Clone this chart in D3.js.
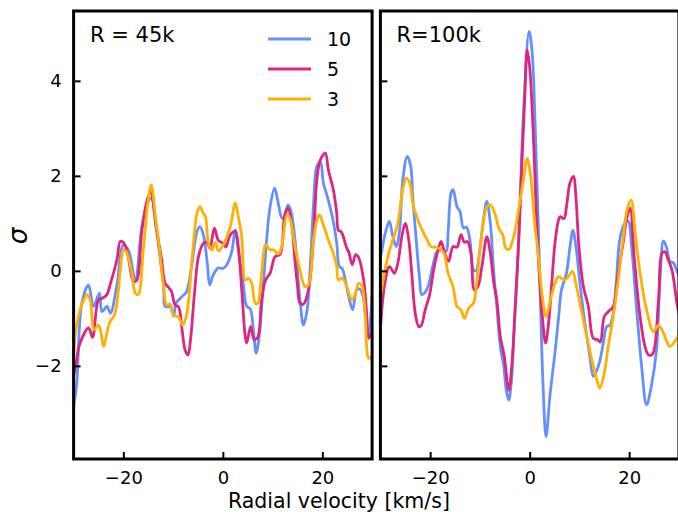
<!DOCTYPE html>
<html><head><meta charset="utf-8">
<script src="https://cdn.jsdelivr.net/npm/d3@7"></script>
<style>html,body{margin:0;padding:0;background:#fff;overflow:hidden}</style>
</head><body><svg id="c" width="678" height="512"></svg>
<script>
// ---- data: [radial velocity (km/s), sigma] ----
const seriesNames = ["10", "5", "3"];
const seriesColors = ["#648FFF", "#DC267F", "#FFB000"];
const panelTitles = ["R = 45k", "R=100k"];
const xTicks = [-20, 0, 20];
const yTicks = [-2, 0, 2, 4];

const left10 = [[-30,-2.86],[-29.4,-2.4],[-28.3,-0.65],[-27,-0.3],[-26,-0.75],[-24.8,-0.47],[-24.3,-0.86],[-23.3,-0.75],[-22.6,-0.89],[-21.3,-0.3],[-20,0.55],[-19,0.44],[-17.6,-0.19],[-16.3,0.93],[-15.2,1.4],[-14.4,1.53],[-13.4,0.9],[-12.9,0.5],[-11.9,-0.33],[-11.6,-0.75],[-10.6,-0.75],[-9.9,-0.95],[-9.4,-0.68],[-8.2,-0.54],[-7.3,-0.44],[-6.2,0.16],[-5.2,0.83],[-4.6,0.93],[-3.9,0.75],[-3.2,0.23],[-2.6,-0.29],[-2,-0.1],[-0.95,0.06],[0,0.05],[0.8,0.13],[1.8,0.41],[2.5,0.86],[3.1,0.44],[4.1,-0.26],[4.8,-0.75],[5.5,-0.8],[6.2,-1.31],[6.7,-1.73],[7.3,-1.38],[8.2,-0.19],[8.8,0.65],[9.5,1.35],[10.4,1.74],[11,1.5],[11.9,1.11],[12.4,1.12],[13.1,1.39],[13.7,1.25],[14.5,0.65],[15,0],[15.5,-0.6],[16.2,-1.14],[16.9,-0.85],[17.5,-0.05],[18.2,1.35],[18.9,2.2],[19.6,2.3],[20.2,1.85],[20.9,1.6],[21.6,1.32],[22.2,1.04],[22.9,0.58],[23.4,0.09],[24,0.05],[24.6,-0.19],[25.3,-0.54],[26.1,-0.82],[26.9,-0.4],[27.5,-0.38],[28.1,-0.5],[28.9,-1.17],[29.3,-1.35],[29.7,-1.0],[30,-0.5]];
const left5 = [[-30,-2.22],[-29.6,-2.0],[-28.7,-1.52],[-27,-1.2],[-26.2,-1.4],[-25,-0.61],[-24.3,-0.58],[-23.3,-0.5],[-22.6,-0.27],[-21.3,0.23],[-20.6,0.62],[-20,0.6],[-19,0.29],[-18,-0.22],[-17.3,-0.2],[-16.3,0.82],[-15.2,1.5],[-14.5,1.67],[-13.5,1.0],[-12.9,0.6],[-12.3,0.23],[-11.6,-0.26],[-10.9,-0.35],[-10.3,-0.44],[-9.6,-0.72],[-8.9,-0.76],[-8.2,-1.24],[-7.6,-1.66],[-7,-1.77],[-6.5,-1.45],[-5.7,-0.47],[-4.9,0.3],[-3.9,0.58],[-3.2,0.6],[-2.6,0.48],[-1.7,0.9],[-0.9,0.64],[0.1,0.58],[0.6,0.5],[1.5,0.76],[2.5,0.83],[3.1,0.51],[3.8,-0.4],[4.5,-1.38],[4.8,-1.52],[5.6,-1.17],[6.3,-1.45],[7,-1.4],[7.8,-0.61],[8.6,-0.19],[9.5,-0.05],[10.5,0.3],[11.5,0.35],[12.5,1.21],[13.1,1.32],[13.9,0.93],[14.5,0.2],[15,-0.3],[15.5,-0.68],[16.2,-0.7],[17.2,-0.4],[18.2,0.65],[18.9,1.92],[19.6,2.34],[20.6,2.48],[21.2,2.13],[22.2,1.71],[22.9,1.21],[23.2,0.86],[23.8,0.82],[24.9,0.48],[25.3,0.4],[26,0.13],[26.7,0.34],[27.3,0.28],[28.3,-0.19],[28.9,-0.89],[29.3,-1.42],[29.7,-1.35],[30,-1.3]];
const left3 = [[-30,-1.77],[-29.5,-1.2],[-28.7,-0.82],[-27.9,-0.6],[-27.3,-0.5],[-26.7,-0.6],[-25.9,-1.24],[-25,-1.14],[-24.5,-1.3],[-24,-1.59],[-22.8,-1.1],[-21.7,-0.9],[-20.6,0.02],[-20,0.44],[-19.4,0.4],[-18.3,-0.05],[-17.6,-0.47],[-17,-0.5],[-16,0.44],[-15,1.5],[-14.4,1.81],[-13.5,1.1],[-12.9,0.59],[-11.9,-0.33],[-11.3,-0.72],[-10.6,-0.7],[-9.9,-0.93],[-8.9,-0.97],[-8.1,-1.14],[-7.3,-0.93],[-6.2,0.23],[-5.2,1.21],[-4.6,1.35],[-3.9,1.2],[-3.5,1.15],[-2.9,0.58],[-2.2,0.44],[-1.5,0.6],[-0.9,0.42],[0.1,0.55],[0.8,0.72],[1.5,0.93],[2.5,1.43],[3.1,1.14],[3.8,0.72],[4.5,-0.19],[5.1,-0.16],[5.8,-0.26],[6.5,-0.68],[7,-0.68],[7.8,-0.05],[8.6,0.55],[9.4,0.45],[10.2,0.44],[11.2,0.36],[11.8,0.5],[12.9,1.18],[13.5,1.1],[14.5,0.51],[15.5,0.02],[16.5,-0.33],[17.2,-0.3],[18.2,0.65],[18.9,1.07],[19.4,1.18],[20.2,0.97],[21.2,0.65],[22.2,0.37],[22.9,0.09],[23.2,-0.19],[24,-0.15],[24.9,-0.33],[25.9,-0.61],[26.6,-0.5],[27.3,-0.26],[27.9,-0.3],[28.6,-0.89],[28.9,-1.59],[29.3,-1.84],[30,-1.8]];

const right10 = [[-30,0.3],[-29.7,0.44],[-29,0.8],[-28.2,1.04],[-27.5,0.72],[-26.8,0.51],[-26.2,0.79],[-25.5,1.92],[-24.6,2.41],[-23.9,2.2],[-23.5,1.56],[-22.8,0.65],[-22.1,-0.19],[-21.7,-0.5],[-21,-0.45],[-20.3,-0.29],[-19.5,0.09],[-18.6,0.41],[-17.8,0.44],[-16.8,0.41],[-16.4,0.8],[-15.8,1.64],[-15.4,1.71],[-14.6,1.35],[-14,1.25],[-13.3,0.9],[-12.7,0.92],[-12,0.65],[-11.3,0.02],[-10.8,0.0],[-10.1,0.37],[-9.3,1.07],[-8.6,1.46],[-7.9,1.0],[-7.2,-0.05],[-6.6,-0.75],[-5.9,-1.59],[-5.2,-2.01],[-4.7,-2.51],[-4.2,-2.72],[-3.7,-2.36],[-3,-1.0],[-2.3,0.37],[-1.3,3.18],[-0.1,5.04],[0.5,4.6],[1.07,3.18],[1.9,0.37],[2.7,-2.43],[3.3,-3.49],[4.1,-2.6],[5,-1.8],[5.8,-1.0],[6.4,-0.4],[7.4,-0.05],[8.1,0.5],[8.7,0.85],[9.4,0.44],[10.1,-0.26],[11.1,-1.1],[12.1,-1.8],[12.8,-2.22],[13.4,-2.12],[14.1,-1.9],[14.8,-1.52],[15.5,-1.17],[16.1,-1.15],[16.8,-0.89],[17.4,-0.26],[18.1,0.65],[19,0.98],[19.8,1.05],[20.5,0.5],[21.5,-0.8],[22.5,-2.0],[23.5,-2.82],[24.5,-2.4],[25.5,-1.66],[26.2,-0.2],[26.9,0.63],[27.5,0.5],[28.2,0.2],[28.9,0.17],[29.6,0.0],[30,-0.1]];
const right5 = [[-30,-1.24],[-29.2,-0.33],[-28.2,0.09],[-27.2,-0.05],[-26.5,0.16],[-25.7,0.72],[-25,1.0],[-24.3,0.65],[-23.7,-0.05],[-23,-0.89],[-22.3,-1.17],[-21.8,-1.15],[-21,-0.82],[-20.1,-0.5],[-19.3,0.02],[-18.4,0.44],[-17.8,0.62],[-17,0.35],[-16.3,0.2],[-15.4,0.51],[-14.6,0.5],[-13.8,0.76],[-13.1,0.6],[-12.5,0.62],[-11.8,0.37],[-11.1,-0.4],[-10.4,-0.33],[-9.6,0.09],[-8.6,0.72],[-7.9,0.37],[-7.2,-0.26],[-6.6,-0.61],[-5.9,-1.38],[-5.1,-1.8],[-4.2,-2.51],[-3.6,-2.01],[-2.9,-0.75],[-2.2,0.65],[-1.5,2.41],[-1,3.6],[-0.5,4.65],[0,4.3],[0.6,3.18],[1.7,0.37],[2.5,-0.9],[3.2,-1.52],[3.8,-1.1],[4.4,-0.33],[5.1,0.6],[5.8,1.07],[6.1,1.14],[6.9,1.1],[7.4,1.35],[8.1,1.85],[8.8,1.99],[9.3,1.56],[9.9,0.51],[10.8,-0.33],[11.8,-0.75],[12.8,-1.42],[13.7,-1.45],[14.2,-1.5],[15,-0.96],[15.8,-0.86],[16.8,-0.75],[17.8,-0.05],[18.8,0.6],[19.5,1.1],[20.2,1.32],[21,0.3],[22.2,-0.96],[23.2,-1.6],[23.9,-1.77],[24.7,-1.75],[25.9,-0.61],[26.6,0.37],[27.2,0.4],[27.8,0.25],[28.6,0.02],[29.6,-0.68],[30,-0.9]];
const right3 = [[-30,-0.6],[-29.9,-0.47],[-28.5,0.3],[-27.5,0.65],[-26.5,1.0],[-25.5,1.71],[-24.8,1.95],[-24.1,1.85],[-23.5,1.43],[-22.6,1.11],[-21.8,0.9],[-20.8,0.69],[-19.8,0.51],[-18.9,0.5],[-17.8,0.45],[-17.1,0.34],[-16.4,-0.05],[-15.4,-0.33],[-14.6,-0.75],[-13.8,-0.82],[-13.1,-1.0],[-12.3,-0.79],[-11.3,-0.68],[-10.6,-0.19],[-9.6,0.79],[-8.6,1.35],[-7.9,1.39],[-7,1.21],[-6.2,0.9],[-5.4,0.76],[-4.8,0.48],[-4.2,0.45],[-3.2,0.72],[-2.2,1.3],[-1.2,1.95],[-0.5,2.37],[0.2,2.0],[1,1.0],[1.7,0.37],[2.5,-0.5],[3.3,-0.96],[4.2,-0.6],[5.1,-0.26],[5.8,-0.12],[6.9,-0.19],[7.6,-0.15],[8.6,-0.01],[9.4,-0.33],[10.5,-0.89],[11.5,-1.38],[12.5,-1.87],[13.5,-2.29],[14.1,-2.47],[15,-2.15],[15.8,-1.59],[16.8,-0.96],[17.8,-0.19],[18.8,0.7],[19.6,1.3],[20.4,1.49],[21.2,0.8],[22.2,-0.05],[23.5,-0.82],[24.9,-1.28],[25.9,-1.14],[26.9,-1.31],[28.2,-1.59],[29.6,-1.42],[30,-1.35]];

const panels = [
  {title: panelTitles[0], series: [left10, left5, left3], x0: 73.6, x1: 372.1, labels: true, legend: true, tx: 90},
  {title: panelTitles[1], series: [right10, right5, right3], x0: 380.4, x1: 678.9, labels: false, legend: false, tx: 396.5}
];

const svg = d3.select("#c");
const y = d3.scaleLinear().domain([-3.96, 5.47]).range([459, 11]);
const FONT = "DejaVu Sans, sans-serif";

panels.forEach((p, pi) => {
  const x = d3.scaleLinear().domain([-30, 30]).range([p.x0, p.x1]);
  const g = svg.append("g");
  const clipId = "clip" + pi;
  svg.append("clipPath").attr("id", clipId).append("rect")
    .attr("x", p.x0).attr("y", 11).attr("width", p.x1 - p.x0).attr("height", 448);
  const line = d3.line().x(d => x(d[0])).y(d => y(d[1])).curve(d3.curveCatmullRom.alpha(0.5));
  const lg = g.append("g").attr("clip-path", `url(#${clipId})`);
  p.series.forEach((s, i) => {
    lg.append("path").attr("d", line(s)).attr("fill", "none")
      .attr("stroke", seriesColors[i]).attr("stroke-width", 2.8)
      .attr("stroke-linejoin", "round").attr("stroke-linecap", "round");
  });
  // axes (ticks inward)
  const xa = d3.axisBottom(x).tickValues(xTicks).tickSizeInner(-7).tickSizeOuter(0)
    .tickPadding(12).tickFormat(d => d < 0 ? "\u2212" + Math.abs(d) : d);
  const xg = g.append("g").attr("transform", "translate(0,459)").call(xa);
  xg.select(".domain").remove();
  xg.selectAll("line").attr("stroke", "#000").attr("stroke-width", 2);
  xg.selectAll("text").attr("font-family", FONT).attr("font-size", 18).attr("fill", "#000");
  const ya = d3.axisLeft(y).tickValues(yTicks).tickSizeInner(-7).tickSizeOuter(0)
    .tickPadding(12).tickFormat(d => d < 0 ? "\u2212" + Math.abs(d) : d);
  const yg = g.append("g").attr("transform", `translate(${p.x0},0)`).call(ya);
  yg.select(".domain").remove();
  yg.selectAll("line").attr("stroke", "#000").attr("stroke-width", 2);
  yg.selectAll("text").attr("font-family", FONT).attr("font-size", 18).attr("fill", "#000");
  if (!p.labels) yg.selectAll("text").remove();
  // frame
  g.append("rect").attr("x", p.x0).attr("y", 11).attr("width", p.x1 - p.x0).attr("height", 448)
    .attr("fill", "none").attr("stroke", "#000").attr("stroke-width", 3);
  g.append("text").attr("x", p.tx).attr("y", 42).attr("font-family", FONT)
    .attr("font-size", 21).text(p.title);
  if (p.legend) {
    seriesNames.forEach((n, i) => {
      const ly = 39 + i * 30;
      g.append("line").attr("x1", 268).attr("x2", 311).attr("y1", ly).attr("y2", ly)
        .attr("stroke", seriesColors[i]).attr("stroke-width", 3);
      g.append("text").attr("x", 327).attr("y", ly + 7).attr("font-family", FONT)
        .attr("font-size", 19).text(n);
    });
  }
});

svg.append("text").attr("x", 228).attr("y", 508).attr("font-family", FONT)
  .attr("font-size", 20.5).text("Radial velocity [km/s]");
svg.append("text").attr("transform", "translate(27,236) rotate(-90)")
  .attr("text-anchor", "middle").attr("font-family", FONT).attr("font-style", "italic")
  .attr("font-size", 26).text("σ");
</script></body></html>
